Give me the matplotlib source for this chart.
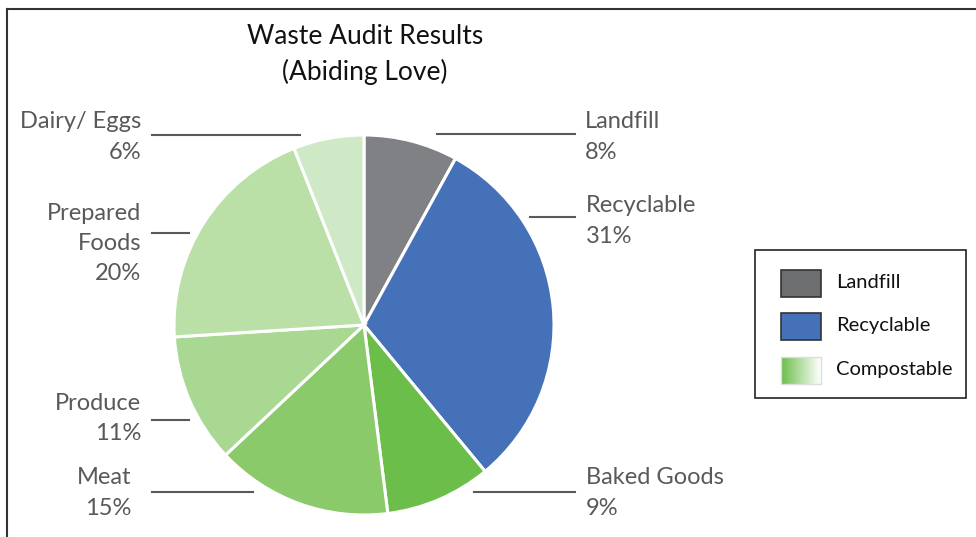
import matplotlib
matplotlib.use("Agg")
import matplotlib.pyplot as plt
import numpy as np
from matplotlib.patches import Rectangle

plt.rcParams['font.family'] = ['Lato', 'DejaVu Sans']

# data
categories = ["Landfill", "Recyclable", "Baked Goods", "Meat", "Produce",
              "Prepared Foods", "Dairy/ Eggs"]
label_text = ["Landfill", "Recyclable", "Baked Goods", "Meat", "Produce",
              "Prepared\nFoods", "Dairy/ Eggs"]
percent = [8, 31, 9, 15, 11, 20, 6]
colors = ["#808184", "#4571b9", "#6cbe4a", "#8bca6a", "#a9d892",
          "#bbe0a7", "#cfe8c6"]

legend_names = ["Landfill", "Recyclable", "Compostable"]

W, H = 976, 537
fig = plt.figure(figsize=(W / 100, H / 100), dpi=100)
ax = fig.add_axes([0, 0, 1, 1])

# outer frame (top and left edges only visible)
ax.plot([7, W + 5], [H - 9, H - 9], color="#333333", lw=1.5, clip_on=False)
ax.plot([7, 7], [H - 9, -5], color="#333333", lw=1.5, clip_on=False)

# pie
cx, cy, r = 364, H - 325, 190
ax.pie(percent, colors=colors, startangle=90, counterclock=False,
       center=(cx, cy), radius=r, frame=True,
       wedgeprops=dict(edgecolor="white", linewidth=2.2))

# title
ax.text(365, H - 37, "Waste Audit Results", ha="center", va="center",
        fontsize=19, color="#111111")
ax.text(365, H - 72, "(Abiding Love)", ha="center", va="center",
        fontsize=19, color="#111111")

# label layout: (side, text x, first line y, line x0, line x1, line y)
layout = [
    ("r", 585, 122, 437, 575, 134),
    ("r", 586, 206, 530, 575, 217),
    ("r", 586, 478, 474, 575, 492),
    ("l", 131, 478, 152, 253, 492),
    ("l", 141, 403, 152, 189, 420),
    ("l", 141, 213, 152, 189, 233),
    ("l", 141, 122, 152, 300, 135),
]
grey = "#595959"
step = 30.5
for txt, pct, (side, tx, ty, x0, x1, ly) in zip(label_text, percent, layout):
    ha = "left" if side == "r" else "right"
    lines = txt.split("\n") + [f"{pct}%"]
    for k, line in enumerate(lines):
        ax.text(tx, H - (ty + k * step), line, ha=ha, va="center",
                fontsize=17, color=grey)
    ax.plot([x0, x1], [H - ly, H - ly], color=grey, lw=1.5)

# legend box
ax.add_patch(Rectangle((755, H - 398), 211, 148, facecolor="white",
                       edgecolor="#222222", lw=1.2))
patch_y = [270, 313, 357]
for i, (name, py) in enumerate(zip(legend_names, patch_y)):
    if i < 2:
        fc = "#6d6e70" if i == 0 else colors[1]
        ax.add_patch(Rectangle((781, H - py - 27), 40, 27, facecolor=fc,
                               edgecolor="#333333", lw=1.2))
    else:
        grad = np.linspace(0, 1, 100).reshape(1, -1)
        cmap = matplotlib.colors.LinearSegmentedColormap.from_list(
            "g", [colors[2], "#ffffff"])
        ax.imshow(grad, cmap=cmap, extent=(781, 821, H - py - 27, H - py),
                  aspect="auto", zorder=3)
        ax.add_patch(Rectangle((781, H - py - 27), 40, 27, facecolor="none",
                               edgecolor="#dddddd", lw=1.0, zorder=4))
    ax.text(836, H - py - 13, name, ha="left", va="center",
            fontsize=14.5, color="#111111")

ax.set_xlim(0, W)
ax.set_ylim(0, H)
ax.set_aspect('equal')
ax.axis('off')
fig.savefig("out.png", dpi=100)
